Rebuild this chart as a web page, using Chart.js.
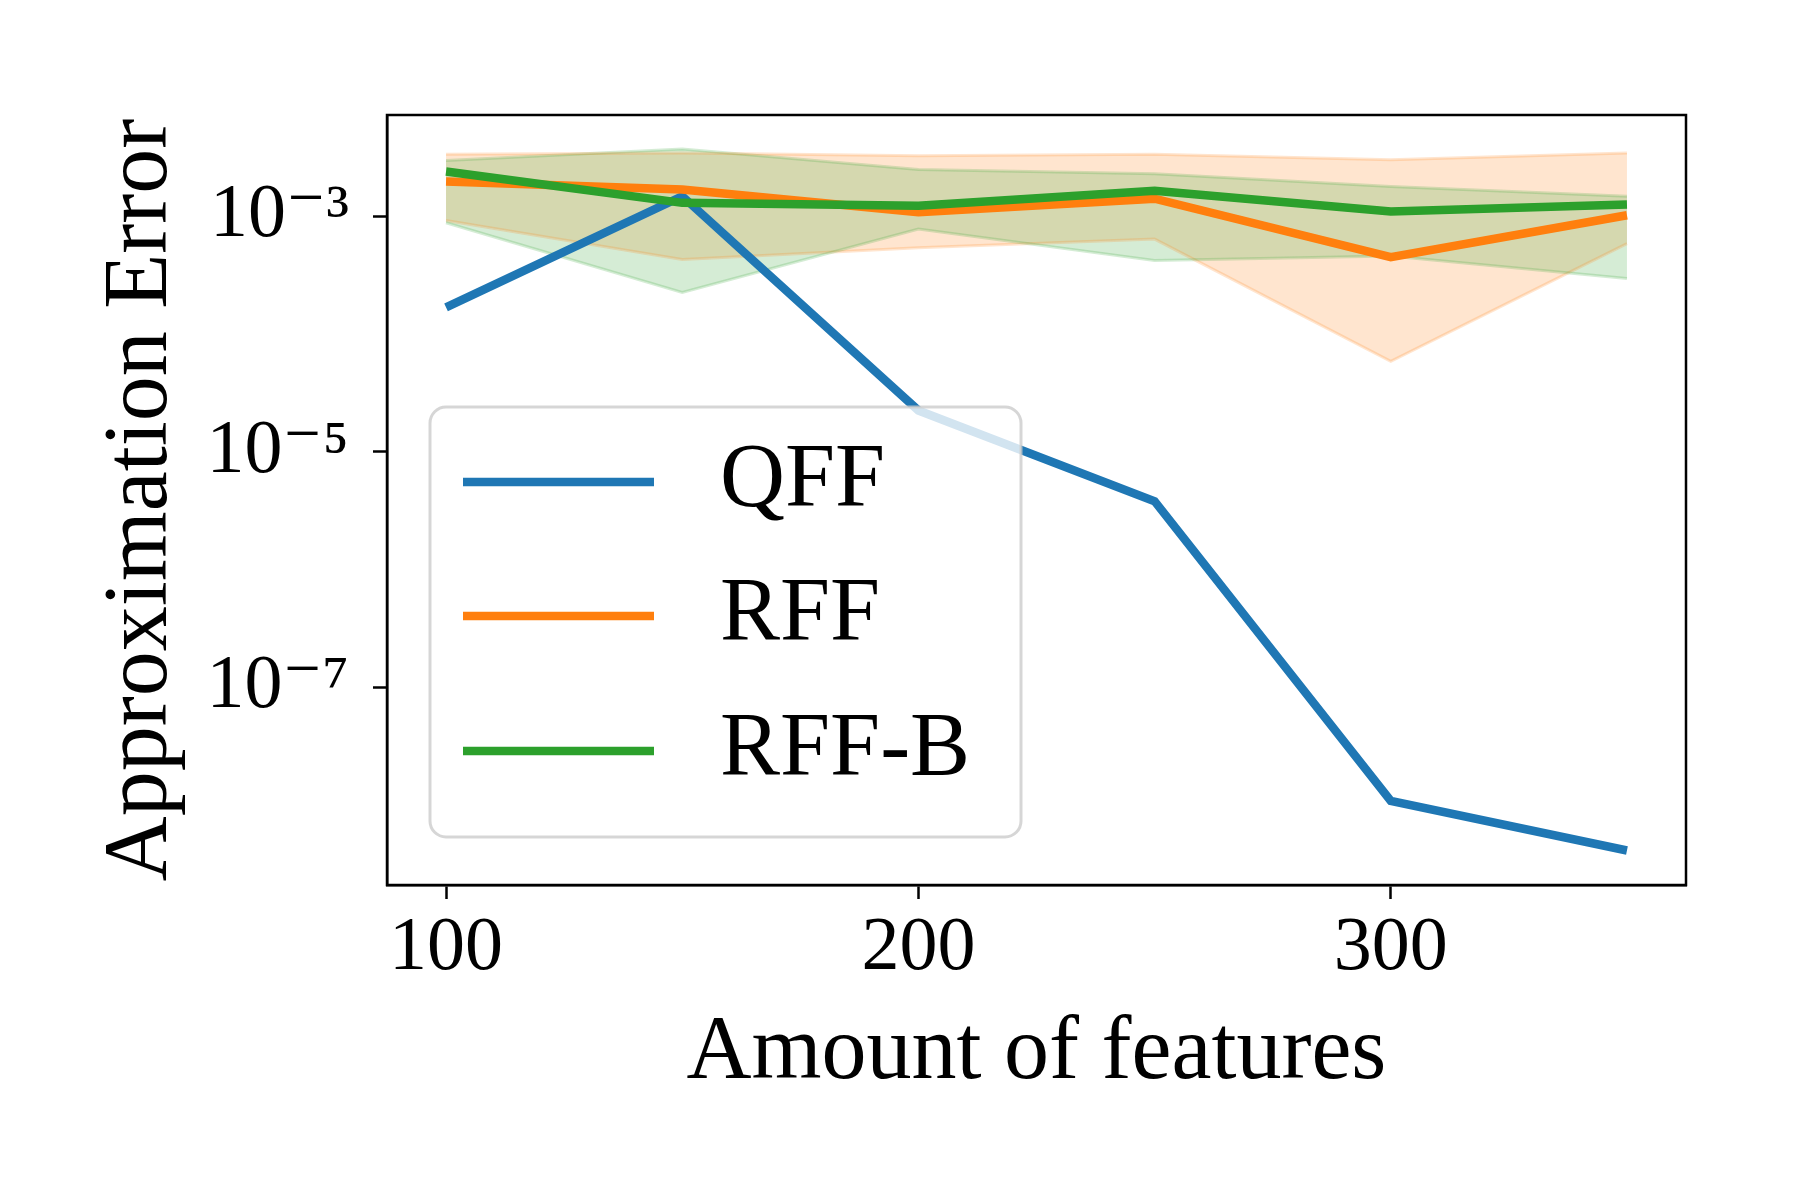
<!DOCTYPE html>
<html>
<head>
<meta charset="utf-8">
<script src="https://cdn.jsdelivr.net/npm/chart.js@4/dist/chart.umd.min.js"></script>
<style>
  html, body { margin: 0; padding: 0; background: #ffffff; }
  #wrap { width: 1800px; height: 1200px; }
</style>
</head>
<body>
<div id="wrap"><canvas id="errorChart" width="1800" height="1200"></canvas></div>
<script>
// Datos
const features = [100, 150, 200, 250, 300, 350];

const qffError = [1.68e-4, 1.48e-3, 2.24e-5, 3.8e-6, 1.08e-8, 4.1e-9];

const rffError = [1.97e-3, 1.69e-3, 1.08e-3, 1.41e-3, 4.5e-4, 1.02e-3];
const rffUpper = [3.37e-3, 3.44e-3, 3.27e-3, 3.37e-3, 3.02e-3, 3.44e-3];
const rffLower = [9.2e-4, 4.3e-4, 5.4e-4, 6.4e-4, 5.85e-5, 5.85e-4];

const rffbError = [2.4e-3, 1.3e-3, 1.23e-3, 1.65e-3, 1.1e-3, 1.26e-3];
const rffbUpper = [2.98e-3, 3.72e-3, 2.49e-3, 2.3e-3, 1.79e-3, 1.48e-3];
const rffbLower = [8.8e-4, 2.25e-4, 7.8e-4, 4.2e-4, 4.6e-4, 2.96e-4];

const xTicks = [100, 200, 300];
const yTicks = [1e-7, 1e-5, 1e-3];

const legendLabels = ['QFF', 'RFF', 'RFF-B'];

const BLUE = '#1f77b4';
const ORANGE = '#ff7f0e';
const GREEN = '#2ca02c';
const ORANGE_A = 'rgba(255, 127, 14, 0.2)';
const GREEN_A = 'rgba(44, 160, 44, 0.2)';

const SERIF = "'Liberation Serif', 'DejaVu Serif', serif";

function toPoints(values) {
    return features.map((x, i) => ({ x: x, y: values[i] }));
}

const superDigits = { '0': '⁰', '1': '¹', '2': '²', '3': '³', '4': '⁴', '5': '⁵', '6': '⁶', '7': '⁷', '8': '⁸', '9': '⁹', '-': '⁻' };
function powerLabel(value) {
    const exp = String(Math.round(Math.log10(value)));
    return '10' + exp.split('').map(c => superDigits[c]).join('');
}

// Configuración común para las líneas
const lineConfig = {
    pointRadius: 0,
    pointHoverRadius: 0,
    borderWidth: 8.5,
    tension: 0,
    fill: false
};

const bandConfig = {
    pointRadius: 0,
    pointHoverRadius: 0,
    borderWidth: 3,
    tension: 0
};

// Marco completo del área (los cuatro lados)
const framePlugin = {
    id: 'frame',
    afterDatasetsDraw(chart) {
        const { ctx, chartArea } = chart;
        ctx.save();
        ctx.strokeStyle = '#000000';
        ctx.lineWidth = 2.5;
        ctx.strokeRect(chartArea.left, chartArea.top, chartArea.right - chartArea.left, chartArea.bottom - chartArea.top);
        ctx.restore();
    }
};

// Leyenda dentro del área, estilo matplotlib
const boxLegendPlugin = {
    id: 'boxLegend',
    afterDraw(chart) {
        const { ctx, chartArea } = chart;
        const colors = [BLUE, ORANGE, GREEN];
        const left = chartArea.left + 43;
        const top = chartArea.top + 292;
        const width = 591;
        const height = 430;
        const radius = 16;

        ctx.save();
        ctx.beginPath();
        ctx.roundRect(left, top, width, height, radius);
        ctx.fillStyle = 'rgba(255, 255, 255, 0.8)';
        ctx.fill();
        ctx.lineWidth = 3;
        ctx.strokeStyle = 'rgba(204, 204, 204, 0.8)';
        ctx.stroke();

        const rows = [75, 209, 344];
        ctx.font = '90px ' + SERIF;
        ctx.textBaseline = 'middle';
        ctx.textAlign = 'left';
        legendLabels.forEach((label, i) => {
            const y = top + rows[i];
            ctx.beginPath();
            ctx.moveTo(left + 33, y);
            ctx.lineTo(left + 224, y);
            ctx.lineWidth = 8.5;
            ctx.strokeStyle = colors[i];
            ctx.stroke();
            ctx.fillStyle = '#000000';
            ctx.fillText(label, left + 290, y);
        });
        ctx.restore();
    }
};

const ctx = document.getElementById('errorChart').getContext('2d');

new Chart(ctx, {
    type: 'line',
    data: {
        datasets: [
            { label: 'QFF', data: toPoints(qffError), borderColor: BLUE, order: 2, ...lineConfig },
            { label: 'RFF', data: toPoints(rffError), borderColor: ORANGE, order: 1, ...lineConfig },
            { label: 'RFF-B', data: toPoints(rffbError), borderColor: GREEN, order: 0, ...lineConfig },
            { label: 'rffUpper', data: toPoints(rffUpper), borderColor: ORANGE_A, fill: false, order: 5, ...bandConfig },
            { label: 'rffLower', data: toPoints(rffLower), borderColor: ORANGE_A, backgroundColor: ORANGE_A, fill: 3, order: 4, ...bandConfig },
            { label: 'rffbUpper', data: toPoints(rffbUpper), borderColor: GREEN_A, fill: false, order: 6, ...bandConfig },
            { label: 'rffbLower', data: toPoints(rffbLower), borderColor: GREEN_A, backgroundColor: GREEN_A, fill: 5, order: 3, ...bandConfig }
        ]
    },
    options: {
        responsive: false,
        maintainAspectRatio: false,
        animation: false,
        devicePixelRatio: 1,
        layout: {
            padding: { left: 0, right: 114, top: 115, bottom: 0 }
        },
        plugins: {
            legend: { display: false },
            tooltip: { enabled: false },
            filler: { drawTime: 'beforeDatasetsDraw' }
        },
        scales: {
            x: {
                type: 'linear',
                min: 87.5,
                max: 362.5,
                afterBuildTicks: scale => { scale.ticks = xTicks.map(v => ({ value: v })); },
                afterFit: scale => { scale.height = 315; },
                ticks: {
                    color: '#000000',
                    padding: 4,
                    maxRotation: 0,
                    autoSkip: false,
                    font: { family: SERIF, size: 76 },
                    callback: value => String(value)
                },
                grid: {
                    display: true,
                    drawOnChartArea: false,
                    drawTicks: true,
                    tickLength: 14,
                    tickWidth: 2.5,
                    tickColor: '#000000'
                },
                border: { display: true, color: '#000000', width: 2.5 },
                title: {
                    display: true,
                    text: 'Amount of features',
                    color: '#000000',
                    font: { family: SERIF, size: 90 },
                    padding: { top: 0, bottom: 92 }
                }
            },
            y: {
                type: 'logarithmic',
                min: Math.pow(10, -8.68),
                max: Math.pow(10, -2.14),
                afterBuildTicks: scale => { scale.ticks = yTicks.map(v => ({ value: v })); },
                afterFit: scale => { scale.width = 387; },
                ticks: {
                    color: '#000000',
                    padding: 24,
                    autoSkip: false,
                    font: { family: SERIF, size: 76 },
                    callback: value => powerLabel(value)
                },
                grid: {
                    display: true,
                    drawOnChartArea: false,
                    drawTicks: true,
                    tickLength: 14,
                    tickWidth: 2.5,
                    tickColor: '#000000'
                },
                border: { display: true, color: '#000000', width: 2.5 },
                title: {
                    display: true,
                    text: 'Approximation Error',
                    color: '#000000',
                    font: { family: SERIF, size: 90 },
                    padding: { top: 88, bottom: 0 }
                }
            }
        }
    },
    plugins: [framePlugin, boxLegendPlugin]
});
</script>
</body>
</html>
